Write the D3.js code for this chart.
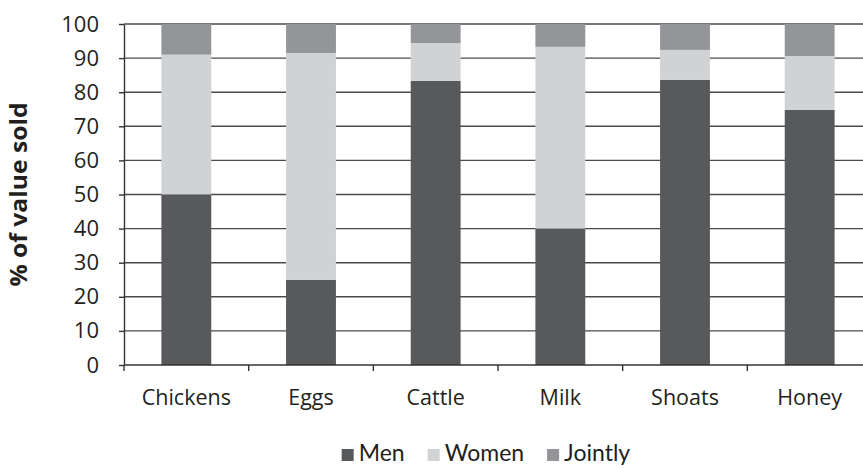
<!DOCTYPE html>
<html>
<head>
<meta charset="utf-8">
<script src="https://cdn.jsdelivr.net/npm/d3@7"></script>
<style>
  html, body { margin: 0; padding: 0; background: #fff; }
  svg { display: block; }
</style>
</head>
<body>
<div id="chart"></div>
<script>
// Share of sales value by who sells, per product
const categories = ["Chickens", "Eggs", "Cattle", "Milk", "Shoats", "Honey"];
const men      = [50, 25, 83.3, 40, 83.6, 74.8];
const women    = [41, 66.5, 11.1, 53.3, 8.8, 15.8];
const jointly  = [9, 8.5, 5.6, 6.7, 7.6, 9.4];
const seriesNames = ["Men", "Women", "Jointly"];
const yTicks = [0, 10, 20, 30, 40, 50, 60, 70, 80, 90, 100];

const colors = { Men: "#58595b", Women: "#d1d2d4", Jointly: "#939598" };

const W = 863, H = 468;
const margin = { left: 124, top: 24, bottom: 103 };
const plotW = 748;          // six bands, the last runs past the right edge
const plotH = H - margin.top - margin.bottom;

const rows = categories.map((c, i) => ({ category: c, Men: men[i], Women: women[i], Jointly: jointly[i] }));
const stacked = d3.stack().keys(seriesNames)(rows);

const svg = d3.select("#chart").append("svg")
  .attr("width", W).attr("height", H);

const x = d3.scaleBand().domain(categories).range([margin.left, margin.left + plotW]).paddingInner(0).paddingOuter(0);
const y = d3.scaleLinear().domain([0, 100]).range([margin.top + plotH, margin.top]);

const fontAxis = "'Open Sans', 'Noto Sans', sans-serif";

// horizontal gridlines
svg.append("g").selectAll("line").data(yTicks.filter(t => t > 0)).join("line")
  .attr("x1", margin.left).attr("x2", margin.left + plotW)
  .attr("y1", d => y(d)).attr("y2", d => y(d))
  .attr("stroke", "#4a4a4a").attr("stroke-width", 1.4);

// stacked bars
const barW = x.bandwidth() * 0.4;
svg.append("g").selectAll("g").data(stacked).join("g")
  .attr("fill", d => colors[d.key])
  .selectAll("rect").data(d => d).join("rect")
  .attr("x", d => x(d.data.category) + (x.bandwidth() - barW) / 2)
  .attr("width", barW)
  .attr("y", d => y(d[1]))
  .attr("height", d => y(d[0]) - y(d[1]));

// y axis
const yAxis = svg.append("g")
  .attr("transform", `translate(${margin.left},0)`)
  .call(d3.axisLeft(y).tickValues(yTicks).tickSize(5).tickPadding(20).tickSizeOuter(0));
yAxis.select(".domain").attr("stroke", "#333").attr("stroke-width", 1.4);
yAxis.selectAll(".tick line").attr("stroke", "#333").attr("stroke-width", 1.4);
yAxis.selectAll("text").attr("font-family", fontAxis).attr("font-size", 22).attr("fill", "#231f20");

// x axis with ticks at band boundaries
const xAxisG = svg.append("g").attr("transform", `translate(0,${y(0)})`);
xAxisG.append("line")
  .attr("x1", margin.left).attr("x2", margin.left + plotW)
  .attr("stroke", "#333").attr("stroke-width", 1.4);
xAxisG.selectAll("line.tk").data(categories).join("line").attr("class", "tk")
  .attr("x1", d => x(d)).attr("x2", d => x(d))
  .attr("y1", 0).attr("y2", 6)
  .attr("stroke", "#333").attr("stroke-width", 1.4);
xAxisG.selectAll("text").data(categories).join("text")
  .attr("x", d => x(d) + x.bandwidth() / 2)
  .attr("y", 40)
  .attr("text-anchor", "middle")
  .attr("font-family", fontAxis).attr("font-size", 21.5).attr("fill", "#231f20")
  .text(d => d);

// y axis title
svg.append("text")
  .attr("transform", `translate(27,${y(50) + 0}) rotate(-90)`)
  .attr("text-anchor", "middle")
  .attr("font-family", fontAxis).attr("font-weight", 700).attr("font-size", 24).attr("fill", "#231f20")
  .attr("textLength", 184).attr("lengthAdjust", "spacingAndGlyphs")
  .text("% of value sold");

// legend
const legendFont = "Lato, 'Open Sans', sans-serif";
const legend = svg.append("g").attr("transform", `translate(0,${H - 7})`);
const items = legend.selectAll("g").data(seriesNames).join("g");
items.append("rect").attr("width", 12).attr("height", 12).attr("y", -12).attr("fill", d => colors[d]);
items.append("text").attr("x", 17).attr("y", 0)
  .attr("font-family", legendFont).attr("font-size", 23).attr("fill", "#231f20")
  .text(d => d);
const gap = 23;
const widths = items.nodes().map(n => n.getBBox().width);
const total = d3.sum(widths) + gap * (widths.length - 1);
let start = 486 - total / 2;
items.attr("transform", (d, i) => {
  const t = `translate(${start},0)`;
  start += widths[i] + gap;
  return t;
});
</script>
</body>
</html>
